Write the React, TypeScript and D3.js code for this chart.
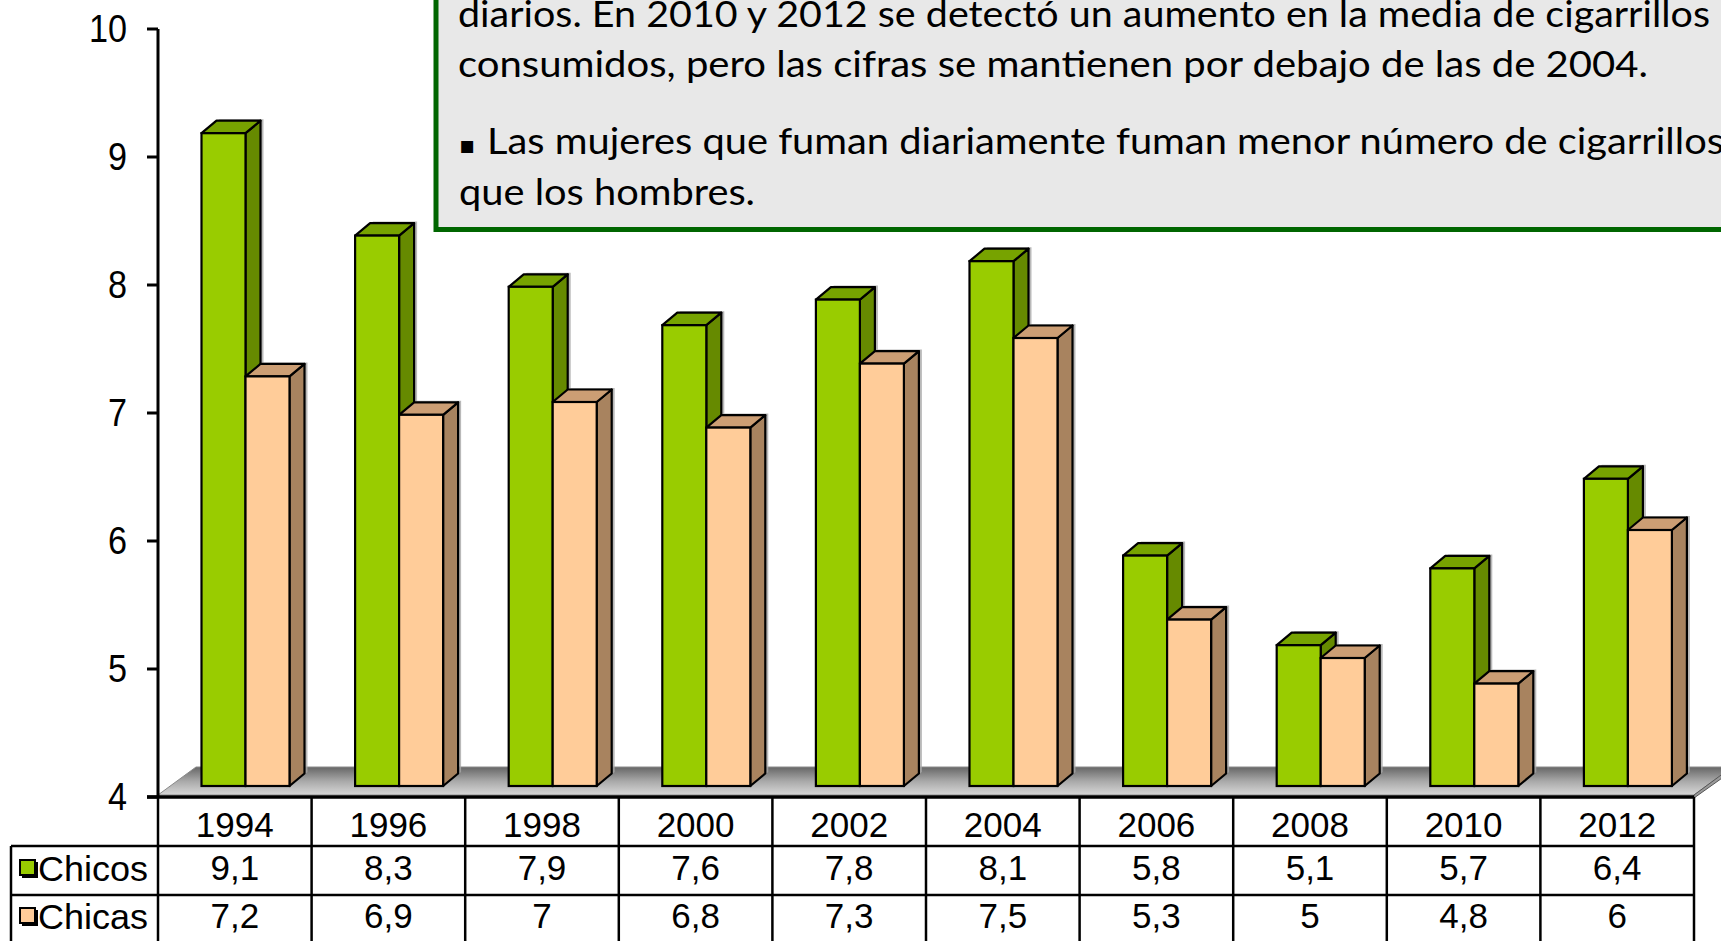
import React from 'react';
import * as d3 from 'd3';

const years = ['1994', '1996', '1998', '2000', '2002', '2004', '2006', '2008', '2010', '2012'];
const chicos = [9.1, 8.3, 7.9, 7.6, 7.8, 8.1, 5.8, 5.1, 5.7, 6.4];
const chicas = [7.2, 6.9, 7, 6.8, 7.3, 7.5, 5.3, 5, 4.8, 6];
const chicosLabels = ['9,1', '8,3', '7,9', '7,6', '7,8', '8,1', '5,8', '5,1', '5,7', '6,4'];
const chicasLabels = ['7,2', '6,9', '7', '6,8', '7,3', '7,5', '5,3', '5', '4,8', '6'];
const seriesNames = ['Chicos', 'Chicas'];
const yTicks = [4, 5, 6, 7, 8, 9, 10];
const noteLine1 = 'diarios. En 2010 y 2012 se detectó un aumento en la media de cigarrillos';
const noteLine2 = 'consumidos, pero las cifras se mantienen por debajo de las de  2004.';
const noteLine3 = 'Las mujeres que fuman diariamente fuman menor número de cigarrillos';
const noteLine4 = 'que los hombres.';

const W = 1721;
const H = 941;

const palette = {
  Chicos: { front: '#99CC00', top: '#77A300', side: '#668A00' },
  Chicas: { front: '#FFCC99', top: '#CC9E74', side: '#A8835F' },
};

export default function App() {
  const x = d3.scaleBand<string>().domain(years).range([158, 1694]).paddingInner(0).paddingOuter(0);
  const xs = d3.scaleBand<string>().domain(seriesNames).range([43.5, 131.5]).paddingInner(0);
  const y = d3.scaleLinear().domain([4, 10]).range([797, 29]);
  const barShift = 11;
  const yb = (v: number) => y(v) - barShift;
  const base = yb(4);
  const dx = 15;
  const dy = 12.5;
  const bw = xs.bandwidth();

  const values: Record<string, number[]> = { Chicos: chicos, Chicas: chicas };

  const bars: JSX.Element[] = [];
  years.forEach((yr, i) => {
    seriesNames.forEach((s) => {
      const v = values[s][i];
      const x0 = (x(yr) as number) + (xs(s) as number);
      const x1 = x0 + bw;
      const yt = yb(v);
      const c = (palette as any)[s];
      const sil = `M${x0},${base} L${x0},${yt} L${x0 + dx},${yt - dy} L${x1 + dx},${yt - dy} L${x1 + dx},${base - dy} L${x1},${base} Z`;
      bars.push(
        <g key={`${yr}-${s}`}>
          <path d={sil} transform="translate(3,-1.5)" fill="#a8a8a8" opacity={0.8} />
          <path
            d={`M${x1},${yt} L${x1 + dx},${yt - dy} L${x1 + dx},${base - dy} L${x1},${base} Z`}
            fill={c.side}
            stroke="#000"
            strokeWidth={2.2}
            strokeLinejoin="round"
          />
          <path
            d={`M${x0},${yt} L${x0 + dx},${yt - dy} L${x1 + dx},${yt - dy} L${x1},${yt} Z`}
            fill={c.top}
            stroke="#000"
            strokeWidth={2.2}
            strokeLinejoin="round"
          />
          <rect x={x0} y={yt} width={bw} height={base - yt} fill={c.front} stroke="#000" strokeWidth={2.2} />
        </g>
      );
    });
  });

  const fL = 158;
  const fR = 1694;
  const fFront = 795;
  const fdx = 38;
  const fdy = 28;

  const colEdges = d3.range(years.length + 1).map((k) => 158 + k * x.bandwidth());
  const armFont = "'Liberation Sans', Arial, sans-serif";
  const noteFont = "Lato, 'Open Sans', sans-serif";

  return (
    <svg
      width={W}
      height={H}
      viewBox={`0 0 ${W} ${H}`}
      style={{ position: 'absolute', left: 0, top: 0, background: '#fff' }}
    >
      <defs>
        <linearGradient id="floorGrad" x1="0" y1="0" x2="0" y2="1">
          <stop offset="0" stopColor="#666" />
          <stop offset="0.5" stopColor="#a8a8a8" />
          <stop offset="1" stopColor="#d8d8d8" />
        </linearGradient>
      </defs>
      <rect x={0} y={0} width={W} height={H} fill="#fff" />

      {/* floor */}
      <path
        d={`M${fL},${fFront} L${fR},${fFront} L${fR + fdx},${fFront - fdy} L${fL + fdx},${fFront - fdy} Z`}
        fill="url(#floorGrad)"
        stroke="#8a8a8a"
        strokeWidth={1}
      />
      <path
        d={`M${fR},${fFront} L${fR + fdx},${fFront - fdy} L${fR + fdx},${fFront - fdy + 4} L${fR},${fFront + 3} Z`}
        fill="#9a9a9a"
        stroke="#555"
        strokeWidth={1}
      />

      {bars}

      {/* value axis */}
      <line x1={158} x2={158} y1={y(10)} y2={y(4)} stroke="#000" strokeWidth={3} />
      {yTicks.map((t) => (
        <g key={t}>
          <line x1={147} x2={158} y1={y(t)} y2={y(t)} stroke="#000" strokeWidth={3} />
          <text
            transform={`translate(127,${y(t)}) scale(0.9,1)`}
            textAnchor="end"
            dominantBaseline="central"
            fontFamily={armFont}
            fontSize={38}
            fill="#000"
          >
            {t}
          </text>
        </g>
      ))}

      {/* data table */}
      <g stroke="#000" strokeWidth={2.5}>
        <line x1={147} x2={1694} y1={797} y2={797} strokeWidth={3.5} />
        <line x1={11} x2={1694} y1={846} y2={846} />
        <line x1={11} x2={1694} y1={895} y2={895} />
        <line x1={11} x2={11} y1={846} y2={H} />
        {colEdges.map((cx, k) => (
          <line key={k} x1={cx} x2={cx} y1={797} y2={H} />
        ))}
      </g>
      {years.map((yr) => (
        <text
          key={yr}
          x={(x(yr) as number) + x.bandwidth() / 2}
          y={824}
          textAnchor="middle"
          dominantBaseline="central"
          fontFamily={armFont}
          fontSize={35}
          fill="#000"
        >
          {yr}
        </text>
      ))}
      {years.map((yr, i) => (
        <text
          key={`c${yr}`}
          x={(x(yr) as number) + x.bandwidth() / 2}
          y={867}
          textAnchor="middle"
          dominantBaseline="central"
          fontFamily={armFont}
          fontSize={35}
          fill="#000"
        >
          {chicosLabels[i]}
        </text>
      ))}
      {years.map((yr, i) => (
        <text
          key={`a${yr}`}
          x={(x(yr) as number) + x.bandwidth() / 2}
          y={915}
          textAnchor="middle"
          dominantBaseline="central"
          fontFamily={armFont}
          fontSize={35}
          fill="#000"
        >
          {chicasLabels[i]}
        </text>
      ))}
      {seriesNames.map((s, k) => {
        const cy = k === 0 ? 868 : 916;
        const c = (palette as any)[s];
        return (
          <g key={s}>
            <rect x={22} y={cy - 6} width={16} height={16} fill="#000" />
            <rect x={20} y={cy - 8} width={15} height={15} fill={c.front} stroke="#000" strokeWidth={2} />
            <text
              x={38}
              y={cy}
              dominantBaseline="central"
              fontFamily={armFont}
              fontSize={35}
              textLength={110}
              lengthAdjust="spacingAndGlyphs"
              fill="#000"
            >
              {s}
            </text>
          </g>
        );
      })}

      {/* note box */}
      <rect x={436} y={-20} width={1400} height={249.5} fill="#e8e8e8" stroke="#006600" strokeWidth={5} />
      <g fontFamily={noteFont} fontSize={37} fill="#000">
        <text x={458} y={27} textLength={1252} lengthAdjust="spacingAndGlyphs">
          {noteLine1}
        </text>
        <text x={458} y={77} textLength={1190} lengthAdjust="spacingAndGlyphs">
          {noteLine2}
        </text>
        <text x={459} y={153} fontFamily="'DejaVu Sans', sans-serif" fontSize={24}>
          ▪
        </text>
        <text x={487} y={154} textLength={1237} lengthAdjust="spacingAndGlyphs">
          {noteLine3}
        </text>
        <text x={459} y={205} textLength={296} lengthAdjust="spacingAndGlyphs">
          {noteLine4}
        </text>
      </g>
    </svg>
  );
}
